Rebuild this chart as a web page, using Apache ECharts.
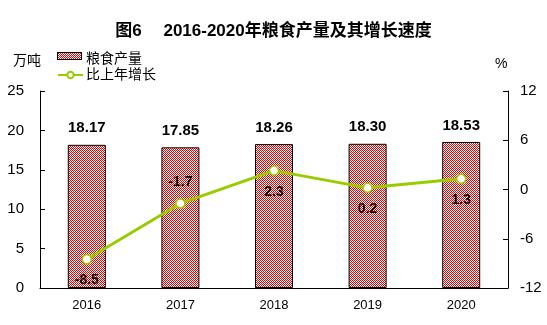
<!DOCTYPE html>
<html>
<head>
<meta charset="utf-8">
<script src="https://cdn.jsdelivr.net/npm/echarts@6/dist/echarts.min.js"></script>
<style>
  html, body { margin: 0; padding: 0; background: #fff; }
  #chart { width: 547px; height: 325px; }
</style>
</head>
<body>
<div id="chart"></div>
<script>
// Grain output (10,000 t) and year-on-year growth (%), 2016-2020
const years = ['2016', '2017', '2018', '2019', '2020'];
const grainOutput = [18.17, 17.85, 18.26, 18.30, 18.53];
const growthRate = [-8.5, -1.7, 2.3, 0.2, 1.3];
const growthLabelPos = ['bottom', 'top', 'bottom', 'bottom', 'bottom'];
const leftTicks = { min: 0, max: 25, interval: 5 };
const rightTicks = { min: -12, max: 12, interval: 6 };

const FONT = "'Liberation Sans', Arial, 'Noto Sans CJK SC', sans-serif";
const RED = '#f00000';

// 1px red/white checkerboard fill for the bars
function checkerPattern() {
  const c = document.createElement('canvas');
  c.width = 2; c.height = 2;
  const ctx = c.getContext('2d');
  ctx.fillStyle = '#ffffff';
  ctx.fillRect(0, 0, 2, 2);
  ctx.fillStyle = RED;
  ctx.fillRect(0, 0, 1, 1);
  ctx.fillRect(1, 1, 1, 1);
  return { image: c, repeat: 'repeat' };
}

// Legend swatch: checkerboard box with a black outline, pixel-aligned
function checkerSwatch(w, h) {
  const c = document.createElement('canvas');
  c.width = w; c.height = h;
  const ctx = c.getContext('2d');
  ctx.fillStyle = '#000';
  ctx.fillRect(0, 0, w, h);
  for (let y = 1; y < h - 1; y++) {
    for (let x = 1; x < w - 1; x++) {
      ctx.fillStyle = (x + y) % 2 === 0 ? RED : '#ffffff';
      ctx.fillRect(x, y, 1, 1);
    }
  }
  return c;
}

const barFill = checkerPattern();

const chart = echarts.init(document.getElementById('chart'), null, { renderer: 'canvas' });

chart.setOption({
  animation: false,
  backgroundColor: '#ffffff',
  textStyle: { fontFamily: FONT },
  title: {
    text: '图6\u3000 2016-2020年粮食产量及其增长速度',
    left: 'center',
    top: 18,
    textStyle: { fontFamily: FONT, fontSize: 17, fontWeight: 'bold', color: '#000' }
  },
  graphic: [
    { type: 'text', left: 13, top: 54, style: { text: '万吨', font: "14px " + FONT, fill: '#000' } },
    { type: 'text', left: 495, top: 57, style: { text: '%', font: "14px " + FONT, fill: '#000' } },
    { type: 'image', x: 57, y: 52, z: 100, style: { image: checkerSwatch(25, 8), width: 25, height: 8 } }
  ],
  legend: {
    orient: 'vertical',
    left: 52,
    top: 47,
    itemWidth: 25,
    itemHeight: 8,
    itemGap: 2,
    textStyle: { fontFamily: FONT, fontSize: 14, color: '#000', padding: [0, 0, 0, -2] },
    data: [
      { name: '粮食产量', icon: 'rect', itemStyle: { color: 'rgba(0,0,0,0)', borderWidth: 0, decal: 'none' } },
      { name: '比上年增长' }
    ]
  },
  grid: { left: 40, right: 39, top: 91, bottom: 37 },
  xAxis: {
    type: 'category',
    data: years,
    axisLine: { lineStyle: { color: '#000', width: 1 } },
    axisTick: { inside: true, length: 5, lineStyle: { color: '#000' } },
    axisLabel: { color: '#000', fontSize: 13, margin: 11, fontFamily: FONT }
  },
  yAxis: [
    {
      type: 'value',
      min: leftTicks.min, max: leftTicks.max, interval: leftTicks.interval,
      axisLine: { show: true, lineStyle: { color: '#000' } },
      axisTick: { show: true, inside: true, length: 5, lineStyle: { color: '#000' } },
      axisLabel: { color: '#000', fontSize: 15, margin: 16, fontFamily: FONT },
      splitLine: { show: false }
    },
    {
      type: 'value',
      position: 'right',
      min: rightTicks.min, max: rightTicks.max, interval: rightTicks.interval,
      axisLine: { show: true, lineStyle: { color: '#000' } },
      axisTick: { show: true, inside: true, length: 5, lineStyle: { color: '#000' } },
      axisLabel: { color: '#000', fontSize: 15, margin: 12, fontFamily: FONT },
      splitLine: { show: false }
    }
  ],
  series: [
    {
      name: '粮食产量',
      type: 'bar',
      yAxisIndex: 0,
      barWidth: 38,
      data: grainOutput,
      itemStyle: { color: barFill, borderColor: '#000', borderWidth: 1 },
      label: {
        show: true,
        position: 'top',
        distance: 9,
        fontSize: 15,
        fontWeight: 'bold',
        color: '#000',
        fontFamily: FONT,
        formatter: p => p.value.toFixed(2)
      },
      z: 2
    },
    {
      name: '比上年增长',
      type: 'line',
      yAxisIndex: 1,
      data: growthRate.map((v, i) => ({
        value: v,
        label: { position: growthLabelPos[i] }
      })),
      symbol: 'circle',
      symbolSize: 9,
      lineStyle: { color: '#99cc00', width: 3 },
      itemStyle: { color: '#ffffff', borderColor: '#99cc00', borderWidth: 1.5 },
      label: {
        show: true,
        distance: 9,
        fontSize: 14,
        fontWeight: 'bold',
        color: '#000',
        fontFamily: FONT,
        formatter: p => p.value.toFixed(1)
      },
      z: 3
    }
  ]
});
</script>
</body>
</html>
